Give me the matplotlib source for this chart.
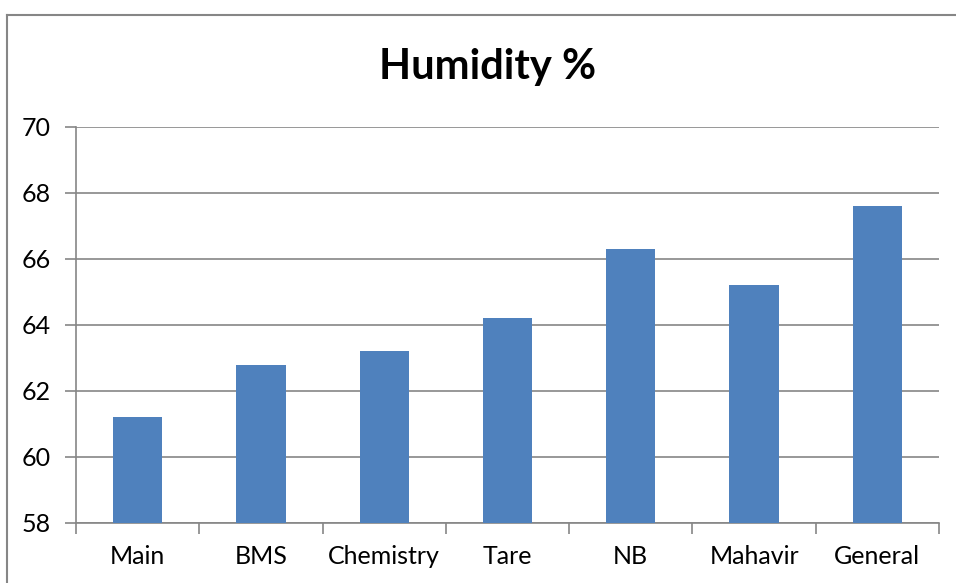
import matplotlib.pyplot as plt
from matplotlib.lines import Line2D
import numpy as np

plt.rcParams['font.family'] = ['Lato', 'DejaVu Sans']

categories = ["Main", "BMS", "Chemistry", "Tare", "NB", "Mahavir", "General"]
humidity = [61.2, 62.8, 63.2, 64.2, 66.3, 65.2, 67.6]

W, H = 956, 583
fig = plt.figure(figsize=(W / 100, H / 100), dpi=100)
ax = fig.add_axes([76 / W, 1 - 523 / H, (939 - 76) / W, (523 - 127) / H])

x = np.arange(len(categories))
ax.bar(x, humidity, width=0.4, color="#4F81BD", zorder=3)

ax.set_xlim(-0.5, len(categories) - 0.5)
ax.set_ylim(58, 70)
ax.set_yticks(range(58, 71, 2))
ax.yaxis.grid(True, color="#868686", linewidth=1.2, zorder=0)

ax.set_xticks(x)
ax.set_xticklabels(categories, fontsize=18)
ax.set_xticks(np.arange(-0.5, len(categories), 1), minor=True)
ax.tick_params(axis="x", which="major", length=0, pad=16)
ax.tick_params(axis="x", which="minor", length=8, width=1.2, color="#868686")
ax.tick_params(axis="y", length=8, width=1.2, color="#868686", labelsize=18, pad=10)

for s in ["top", "right"]:
    ax.spines[s].set_visible(False)
for s in ["left", "bottom"]:
    ax.spines[s].set_color("#868686")
    ax.spines[s].set_linewidth(1.2)

fig.text(488 / W, 1 - 67 / H, "Humidity %", fontsize=30, fontweight="bold",
         ha="center", va="center")

# chart frame (left and top edges visible)
fig.add_artist(Line2D([7 / W, 7 / W], [0, 1 - 15 / H], transform=fig.transFigure,
                      color="#868686", linewidth=1.5))
fig.add_artist(Line2D([7 / W, 1], [1 - 15 / H, 1 - 15 / H], transform=fig.transFigure,
                      color="#868686", linewidth=1.5))

fig.savefig("out.png", dpi=100)
